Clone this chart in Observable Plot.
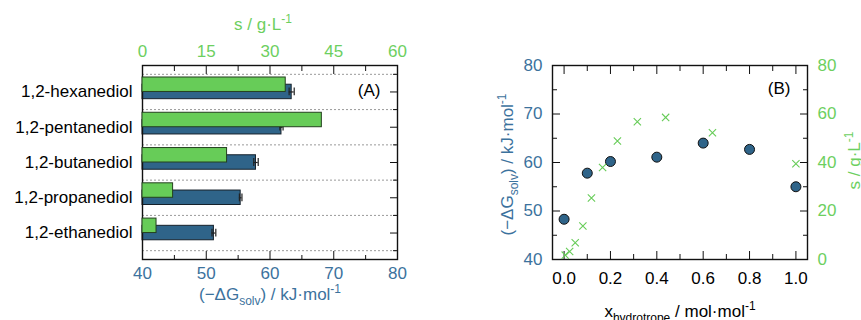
<!DOCTYPE html>
<html><head><meta charset="utf-8">
<script src="https://cdn.jsdelivr.net/npm/d3@7"></script>
<script src="https://cdn.jsdelivr.net/npm/@observablehq/plot@0.6"></script>
<style>
body{margin:0;background:#fff;}
#chart{position:relative;width:861px;height:320px;overflow:hidden;background:#fff;}
</style></head><body><div id="chart"></div>
<script>
// ---- Panel A data ----
const diols = ["1,2-hexanediol","1,2-pentanediol","1,2-butanediol","1,2-propanediol","1,2-ethanediol"];
const dGsolv = [63.4, 61.8, 57.8, 55.4, 51.2];
const dGerr = [0.4, 0.25, 0.35, 0.2, 0.3];
const solub = [33.7, 42.2, 19.9, 7.2, 3.3];
const dGTicksA = [40, 50, 60, 70, 80];
const dGMinorA = [45, 55, 65, 75];
const sTicksA = [0, 15, 30, 45, 60];
const sMinorA = [7.5, 22.5, 37.5, 52.5];

// ---- Panel B data ----
const xCirc = [0.0, 0.1, 0.2, 0.4, 0.6, 0.8, 1.0];
const dGCirc = [48.3, 57.8, 60.2, 61.1, 64.0, 62.7, 55.0];
const xCross = [0.005, 0.024, 0.048, 0.081, 0.118, 0.166, 0.23, 0.316, 0.438, 0.64, 1.0];
const sCross = [1.8, 3.3, 6.9, 13.8, 25.4, 37.9, 48.9, 56.8, 58.6, 52.3, 39.5];
const xTicksB = [0, 0.2, 0.4, 0.6, 0.8, 1.0];
const xMinorB = [0.1, 0.3, 0.5, 0.7, 0.9];
const dGTicksB = [40, 50, 60, 70, 80];
const dGMinorB = [45, 55, 65, 75];
const sTicksB = [0, 20, 40, 60, 80];
const sMinorB = [10, 30, 50, 70];

const blue = "#2f6489", blueText = "#3c729d", green = "#67cc58", greenText = "#6dcf5f";
const FONT = "'Liberation Sans', Arial, Helvetica, sans-serif";
const baseStyle = {background: "transparent", fontSize: "17px", fontFamily: FONT, overflow: "visible", maxWidth: "none"};
const marginsA = {marginLeft: 142, marginRight: 33, marginTop: 65, marginBottom: 61};
const marginsB = {marginLeft: 122, marginRight: 54, marginTop: 65, marginBottom: 61};
const tickStroke = "#111";

function richText(svg) {
  d3.select(svg).selectAll("text").each(function () {
    const raw = this.textContent;
    if (!/[_^]\{/.test(raw)) return;
    const el = d3.select(this);
    el.text(null);
    const re = /([_^])\{([^}]*)\}|([^_^]+)/g;
    let m, shift = 0;
    while ((m = re.exec(raw))) {
      if (m[3] !== undefined) {
        el.append("tspan").attr("dy", -shift).text(m[3]);
        shift = 0;
      } else {
        const s = m[1] === "_" ? 5 : -7;
        el.append("tspan").attr("dy", s - shift).attr("font-size", 12).text(m[2]);
        shift = s;
      }
    }
  });
}

const chart = document.getElementById("chart");
function place(svg, left) {
  svg.style.position = "absolute";
  svg.style.left = left + "px";
  svg.style.top = "0px";
  richText(svg);
  chart.appendChild(svg);
}

// ---------- Panel A ----------
const idx = d3.range(diols.length);
const rowsA = idx.map(i => ({i, dG: dGsolv[i], err: dGerr[i], s: solub[i]}));
const gridPos = d3.range(-0.5, diols.length, 1);
const yA = {domain: [-0.75, diols.length - 0.25], reverse: true, axis: null};
const dGmin = dGTicksA[0], sMin = sTicksA[0];

const A1 = Plot.plot({
  width: 430, height: 320, ...marginsA, style: baseStyle,
  x: {domain: [dGTicksA[0], dGTicksA[dGTicksA.length - 1]], axis: null, label: null},
  y: yA,
  marks: [
    Plot.gridY(gridPos, {stroke: "#9a9a9a", strokeOpacity: 1, strokeDasharray: "2,2"}),
    Plot.rect(rowsA, {x1: () => dGmin, x2: "dG", y1: d => d.i - 0.205, y2: d => d.i + 0.205,
      fill: blue, stroke: "#15202a", strokeWidth: 1}),
    Plot.ruleY(rowsA, {y: "i", x1: d => d.dG - d.err, x2: d => d.dG + d.err, stroke: "#222", strokeWidth: 1.2}),
    Plot.ruleX(rowsA, {x: d => d.dG - d.err, y1: d => d.i - 0.11, y2: d => d.i + 0.11, stroke: "#222", strokeWidth: 1.2}),
    Plot.ruleX(rowsA, {x: d => d.dG + d.err, y1: d => d.i - 0.11, y2: d => d.i + 0.11, stroke: "#222", strokeWidth: 1.2}),
    Plot.frame({stroke: "#111", strokeWidth: 1.4}),
    Plot.axisX(dGTicksA, {anchor: "bottom", tickSize: 0, tickPadding: 7, fill: blueText, label: null}),
    Plot.axisX(dGTicksA, {anchor: "bottom", tickSize: -8, fill: "none", stroke: tickStroke, label: null}),
    Plot.axisX(dGMinorA, {anchor: "bottom", tickSize: -4, fill: "none", stroke: tickStroke, label: null}),
    Plot.axisY(idx, {anchor: "left", tickSize: 0, tickPadding: 10, tickFormat: i => diols[i], fill: "#000", label: null}),
    Plot.axisY(idx, {anchor: "right", tickSize: -8, fill: "none", stroke: tickStroke, label: null}),
    Plot.axisY(gridPos, {anchor: "right", tickSize: -5, fill: "none", stroke: tickStroke, label: null}),
    Plot.text(["(−ΔG_{solv}) / kJ·mol^{-1}"], {text: d => d, frameAnchor: "bottom", textAnchor: "middle", dy: 40, lineAnchor: "bottom", fill: blueText}),
    Plot.text(["(A)"], {text: d => d, frameAnchor: "top-right", textAnchor: "end", lineAnchor: "middle", dx: -17, dy: 25, fill: "#000"})
  ]
});

const A2 = Plot.plot({
  width: 430, height: 320, ...marginsA, style: baseStyle,
  x: {domain: [sTicksA[0], sTicksA[sTicksA.length - 1]], axis: null, label: null},
  y: yA,
  marks: [
    Plot.rect(rowsA, {x1: () => sMin, x2: "s", y1: d => d.i - 0.41, y2: d => d.i,
      fill: green, stroke: "#24401f", strokeWidth: 1}),
    Plot.axisX(sTicksA, {anchor: "top", tickSize: 0, tickPadding: 9, fill: greenText, label: null}),
    Plot.axisX(sTicksA, {anchor: "top", tickSize: -8, fill: "none", stroke: tickStroke, label: null}),
    Plot.axisX(sMinorA, {anchor: "top", tickSize: -5, fill: "none", stroke: tickStroke, label: null}),
    Plot.text(["s / g·L^{-1}"], {text: d => d, frameAnchor: "top", textAnchor: "middle", dy: -36, dx: -7, lineAnchor: "bottom", fill: greenText})
  ]
});

// ---------- Panel B ----------
const circRows = xCirc.map((x, i) => ({x, v: dGCirc[i]}));
const crossRows = xCross.map((x, i) => ({x, v: sCross[i]}));
const xB = {domain: [-0.05, 1.05], axis: null, label: null};

const B1 = Plot.plot({
  width: 431, height: 320, ...marginsB, style: baseStyle,
  x: xB,
  y: {domain: [dGTicksB[0], dGTicksB[dGTicksB.length - 1]], axis: null, label: null},
  marks: [
    Plot.frame({stroke: "#111", strokeWidth: 1.4}),
    Plot.dot(circRows, {x: "x", y: "v", r: 5, fill: blue, stroke: "#111", strokeWidth: 1}),
    Plot.axisX(xTicksB, {anchor: "bottom", tickSize: 0, tickPadding: 12, tickFormat: d3.format(".1f"), fill: "#000", label: null}),
    Plot.axisX(xTicksB, {anchor: "bottom", tickSize: -8, fill: "none", stroke: tickStroke, label: null}),
    Plot.axisX(xMinorB, {anchor: "bottom", tickSize: -5, fill: "none", stroke: tickStroke, label: null}),
    Plot.axisX(xTicksB, {anchor: "top", tickSize: -8, fill: "none", stroke: tickStroke, label: null}),
    Plot.axisX(xMinorB, {anchor: "top", tickSize: -5, fill: "none", stroke: tickStroke, label: null}),
    Plot.axisY(dGTicksB, {anchor: "left", tickSize: 0, tickPadding: 10, fill: blueText, label: null}),
    Plot.axisY(dGTicksB, {anchor: "left", tickSize: -8, fill: "none", stroke: tickStroke, label: null}),
    Plot.axisY(dGMinorB, {anchor: "left", tickSize: -5, fill: "none", stroke: tickStroke, label: null}),
    Plot.text(["x_{hydrotrope} / mol·mol^{-1}"], {text: d => d, frameAnchor: "bottom", textAnchor: "middle", dy: 57, lineAnchor: "bottom", fill: "#000"}),
    Plot.text(["(−ΔG_{solv}) / kJ·mol^{-1}"], {text: d => d, frameAnchor: "left", textAnchor: "middle", rotate: -90, dx: -40, dy: 2, lineAnchor: "bottom", fill: blueText}),
    Plot.text(["(B)"], {text: d => d, frameAnchor: "top-right", textAnchor: "end", lineAnchor: "middle", dx: -17, dy: 23, fill: "#000"})
  ]
});

const B2 = Plot.plot({
  width: 431, height: 320, ...marginsB, style: baseStyle,
  x: xB,
  y: {domain: [sTicksB[0], sTicksB[sTicksB.length - 1]], axis: null, label: null},
  marks: [
    Plot.dot(crossRows, {x: "x", y: "v", r: 3.4, symbol: "times", stroke: green, fill: "none", strokeWidth: 1.1}),
    Plot.axisY(sTicksB, {anchor: "right", tickSize: 0, tickPadding: 10, fill: greenText, label: null}),
    Plot.axisY(sTicksB, {anchor: "right", tickSize: -8, fill: "none", stroke: tickStroke, label: null}),
    Plot.axisY(sMinorB, {anchor: "right", tickSize: -5, fill: "none", stroke: tickStroke, label: null}),
    Plot.text(["s / g·L^{-1}"], {text: d => d, frameAnchor: "right", textAnchor: "middle", rotate: -90, dx: 52, dy: -2, lineAnchor: "bottom", fill: greenText})
  ]
});

place(A1, 0);
place(A2, 0);
place(B1, 430);
place(B2, 430);
</script>
</body></html>
